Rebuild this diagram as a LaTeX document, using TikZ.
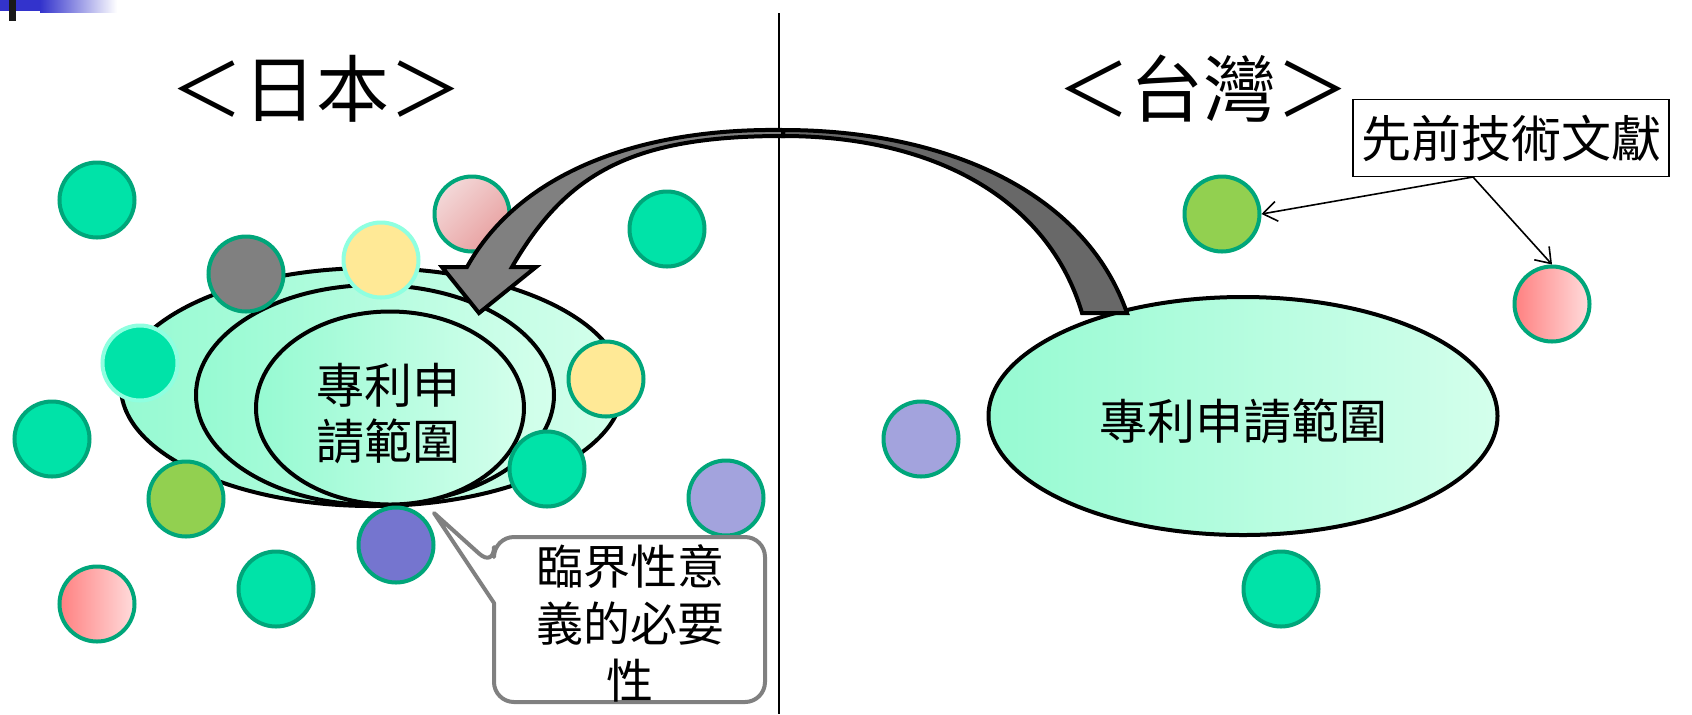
\documentclass[tikz,border=0pt]{standalone}
\usepackage{fontspec}
\newfontfamily\cjk{Noto Sans CJK TC}
\usetikzlibrary{shapes.geometric,arrows.meta}
\definecolor{tealF}{RGB}{0,227,168}
\definecolor{tealD}{RGB}{0,166,122}
\definecolor{aquaL}{RGB}{143,255,224}
\definecolor{yel}{RGB}{255,233,150}
\definecolor{olive}{RGB}{146,208,80}
\definecolor{purD}{RGB}{117,117,207}
\definecolor{purL}{RGB}{163,163,221}
\definecolor{pinkA}{RGB}{255,128,128}
\definecolor{pinkB}{RGB}{255,220,220}
\definecolor{pinkC}{RGB}{243,216,216}
\definecolor{pinkE}{RGB}{232,158,158}
\definecolor{ellL}{RGB}{150,250,210}
\definecolor{ellR}{RGB}{212,255,236}
\definecolor{arrL}{RGB}{128,128,128}
\definecolor{arrR}{RGB}{104,104,104}
\definecolor{blueB}{RGB}{51,51,204}
\definecolor{calloutG}{RGB}{128,128,128}
\tikzset{
  dot/.style={circle, inner sep=0pt, minimum size=37.5pt, line width=2pt, draw=tealD},
  tdot/.style={dot, fill=tealF},
  claim/.style={ellipse, inner sep=0pt, line width=2pt, draw=black, left color=ellL, right color=ellR},
  title/.style={font=\cjk\fontsize{36.5pt}{40pt}\selectfont},
  body/.style={font=\cjk\fontsize{24pt}{28pt}\selectfont, align=center},
  blockarr/.style={draw=black, line width=2pt, line join=miter},
}
\begin{document}
\begin{tikzpicture}[x=0.5pt,y=-0.5pt]
\useasboundingbox (0,0) rectangle (1692,714);
\fill[white] (0,0) rectangle (1692,714);
% top-left decoration
\shade[left color=blueB, right color=white] (40,0) rectangle (117,12);
\fill[blueB] (0,0) rectangle (40,11);
\fill[black!90] (9,0) rectangle (16,21);
% divider
\draw[line width=1pt] (779,13) -- (779,714);
% titles
\node[title] (tJP) at (316,89) {＜日本＞};
\node[title] (tTW) at (1203,89) {＜台灣＞};
% left nested ellipses
\node[claim, minimum width=251pt, minimum height=119pt] (e1) at (372,387) {};
\node[claim, minimum width=179pt, minimum height=110pt] (e2) at (375,395) {};
\node[claim, minimum width=134pt, minimum height=96.5pt] (e3) at (390,408) {};
\node[body] (t3) at (388,414) {專利申\\請範圍};
% right ellipse
\node[claim, minimum width=254.5pt, minimum height=119pt] (e4) at (1243,416) {};
\node[body] (t4) at (1243,421) {專利申請範圍};
% left circles
\node[tdot] (c1) at (97,200) {};
\node[dot, shading=axis, top color=pinkC, bottom color=pinkE, shading angle=45] (c2) at (472,214) {};
\node[tdot] (c3) at (667,229) {};
\node[dot, fill=arrL] (c4) at (246,274) {};
\node[dot, fill=yel, draw=aquaL] (c5) at (381,260) {};
\node[tdot, draw=aquaL] (c6) at (140,363) {};
\node[dot, fill=yel] (c7) at (606,379) {};
\node[tdot] (c8) at (52,439) {};
\node[dot, fill=olive] (c9) at (186,499) {};
\node[tdot] (c10) at (547,469) {};
\node[dot, fill=purL] (c11) at (726,498) {};
\node[dot, fill=purD] (c12) at (396,545) {};
\node[tdot] (c13) at (276,589) {};
\node[dot, left color=pinkA, right color=pinkB] (c14) at (97,604) {};
% right circles
\node[dot, fill=olive] (d1) at (1222,214) {};
\node[dot, left color=pinkA, right color=pinkB] (d2) at (1552,304) {};
\node[dot, fill=purL] (d3) at (921,439) {};
\node[tdot] (d4) at (1281,589) {};
% curved block arrow
\path[blockarr, fill=arrR] (783,130) .. controls (943,130) and (1084,190) .. (1127,313)
  -- (1082,313) .. controls (1048,198) and (933,136) .. (783,136) -- cycle;
\path[blockarr, fill=arrL] (783,130) .. controls (640,128) and (520,172) .. (467,267)
  -- (442,267) -- (479,313) -- (536,267) -- (512,267)
  .. controls (567,172) and (633,136) .. (783,136) -- cycle;
% callout
\draw[line width=2pt, draw=calloutG, fill=white, line join=round]
  (494,567) -- (434,513) -- (494,603) [rounded corners=10pt] -- (494,702) -- (765,702) -- (765,537) -- (494,537) -- cycle;
\node[body, font=\cjk\fontsize{23.5pt}{28.5pt}\selectfont] (call) at (630,623) {臨界性意\\義的必要\\性};
% prior art box
\node[draw=black, line width=0.9pt, fill=white, minimum width=158pt, minimum height=38.5pt, inner sep=0pt,
      font=\cjk\fontsize{25pt}{28pt}\selectfont] (box) at (1511,138) {先前技術文獻};
\coordinate (bs) at (1473,177);
\draw[line width=0.8pt, -{Straight Barb[length=7pt,width=10pt]}] (bs) -- (d1.east);
\draw[line width=0.8pt, -{Straight Barb[length=7pt,width=10pt]}] (bs) -- (d2.north);
\end{tikzpicture}
\end{document}
